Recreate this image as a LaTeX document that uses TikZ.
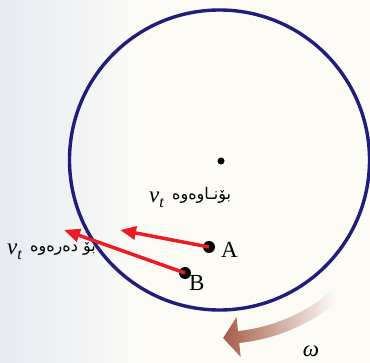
\documentclass[tikz,border=0pt]{standalone}
\usepackage{fontspec}
\setmainfont{Liberation Serif}
\newfontfamily\arabicfont[Script=Arabic]{DejaVu Sans}
\TeXXeTstate=1
\usetikzlibrary{arrows.meta}
\definecolor{navy}{RGB}{32,30,122}
\definecolor{vred}{RGB}{237,28,36}
\definecolor{wbrown}{RGB}{164,94,70}
\definecolor{bgblue}{RGB}{230,234,241}
\definecolor{bgcream}{RGB}{252,251,246}
\newcommand{\vtsym}{\textit{v}\raisebox{-0.4ex}{\fontsize{16}{16}\selectfont\textit{t}}}
\begin{document}
\begin{tikzpicture}[x=1pt,y=-1pt,
  dot/.style={circle,fill=black,inner sep=0pt,minimum size=#1},
  dot/.default=12pt,
  vel/.style={draw=vred,line width=3.5pt,-{Triangle[length=16pt,width=13pt]}},
  lbl/.style={font=\fontsize{23}{25}\selectfont,inner sep=0pt},
  ar/.style={font=\fontsize{16}{18}\selectfont\arabicfont,inner sep=0pt}]
% background
\fill[bgcream] (0,0) rectangle (370,363);
\shade[left color=bgblue,right color=bgcream] (0,0) rectangle (140,363);
\useasboundingbox (0,0) rectangle (370,363);
% wheel
\coordinate (C) at (219.5,160);
\draw[navy,line width=3.4pt] (C) circle[radius=150];
\node[dot=7pt] (O) at (221,161) {};
% points
\node[dot] (A) at (209,247) {};
\node[dot] (B) at (185,273) {};
\node[lbl,anchor=west] (Alab) at (221,250) {A};
\node[lbl,anchor=west] (Blab) at (189,283) {B};
% velocity vectors
\coordinate (tA) at (120,230);
\coordinate (tB) at (64,230);
\draw[vel] (A.center) -- (tA);
\draw[vel] (B.center) -- (tB);
% labels
\node[lbl,anchor=base west] (vt1) at (149,203) {\vtsym};
\node[ar,anchor=base west] (in1) at (172,200) {\beginR بۆنـاوەوە\endR};
\node[lbl,anchor=base west] (vt2) at (7,255) {\vtsym};
\node[ar,anchor=base west] (out1) at (30,252) {\beginR بۆ دەرەوە\endR};
% angular velocity arrow
\shade[left color=wbrown,middle color=wbrown!80!white,right color=white]
  plot[domain=50:84,samples=30] ({220+184*cos(\x)},{160+184*sin(\x)})
  -- ({220+198*cos(84)},{160+198*sin(84)})
  -- ({220+178*cos(89)},{160+178*sin(89)})
  -- ({220+158*cos(84)},{160+158*sin(84)})
  -- ({220+172*cos(84)},{160+172*sin(84)})
  -- plot[domain=84:50,samples=30] ({220+172*cos(\x)},{160+172*sin(\x)})
  -- cycle;
\node[lbl] (w) at (311,351) {\textit{ω}};
\end{tikzpicture}
\end{document}
